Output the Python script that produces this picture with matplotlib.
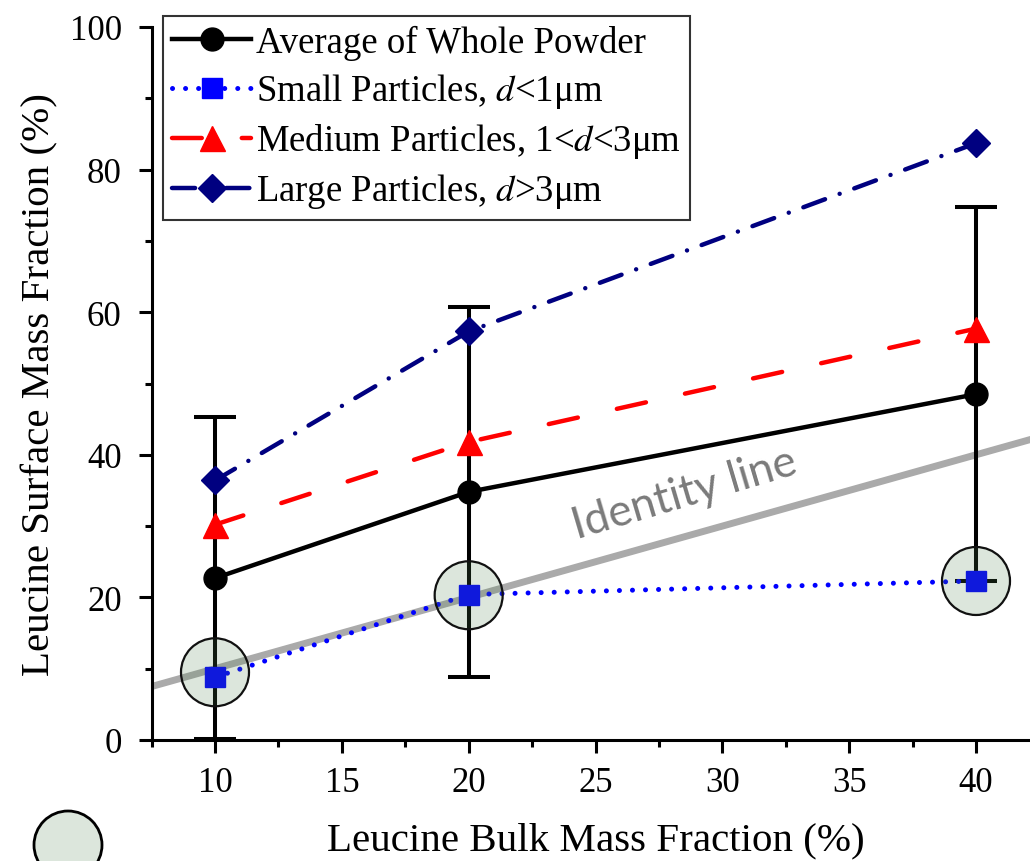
import matplotlib
matplotlib.use("Agg")
import matplotlib.pyplot as plt
from matplotlib.patches import Ellipse
from matplotlib.ticker import MultipleLocator

plt.rcParams['font.family'] = ['Liberation Serif', 'DejaVu Serif']
plt.rcParams['mathtext.fontset'] = 'stix'

bulk = [10, 20, 40]
avg_whole = [22.7, 34.8, 48.5]
avg_err = [22.6, 25.9, 26.2]
small = [8.8, 20.4, 22.3]
medium = [30.2, 41.8, 57.7]
large = [36.4, 57.3, 83.7]
identity_x = [7.5, 42.5]
highlight_x = [10, 20, 40]
highlight_y = [9.5, 20.3, 22.3]

labels = ["Average of Whole Powder",
          "Small Particles, $d$<1μm",
          "Medium Particles, 1<$d$<3μm",
          "Large Particles, $d$>3μm"]

W, H = 1030, 862
fig = plt.figure(figsize=(W/100, H/100), dpi=100)
x0, x1 = 7.5, 42.5
px_per_unit = (976 - 215) / 30.0
left_px = 215 - (10 - x0) * px_per_unit
right_px = 215 + (x1 - 10) * px_per_unit
ax = fig.add_axes([left_px / W, (H - 741) / H, (right_px - left_px) / W, (741 - 28) / H])
ax.set_xlim(x0, x1)
ax.set_ylim(0, 100)

# identity line
ax.plot(identity_x, identity_x, color='#aaaaaa', lw=5, solid_capstyle='butt', zorder=1)

# error bars of average
ax.errorbar(bulk, avg_whole, yerr=avg_err, fmt='none', ecolor='black',
            elinewidth=2.9, capsize=15, capthick=2.9, zorder=2)

l1, = ax.plot(bulk, avg_whole, color='black', lw=3.2, marker='o', ms=16.5,
              label=labels[0], zorder=3)
l2, = ax.plot(bulk, small, color='#0000ff', lw=3.6, marker='s', ms=14,
              dash_capstyle='round', label=labels[1], zorder=3)
l2.set_dashes([0.01, 2.6])
l3, = ax.plot(bulk, medium, color='#ff0000', lw=3.2, marker='^', ms=18,
              dash_capstyle='round', label=labels[2], zorder=3)
l3.set_dashes([6.7, 9.0])
l4, = ax.plot(bulk, large, color='#000080', lw=3.2, marker='D', ms=14,
              dash_capstyle='round', label=labels[3], zorder=3)
l4.set_dashes([5.2, 3.5, 0.01, 3.5])

# highlight circles (semi-transparent overlay)
r_px = 34
for hx, hy in zip(highlight_x, highlight_y):
    e = Ellipse((hx, hy), width=2 * r_px / px_per_unit, height=2 * r_px / 7.134,
                facecolor=(80/255, 130/255, 80/255, 0.2), edgecolor='#111111',
                lw=1.6, zorder=5)
    ax.add_patch(e)

# standalone circle in lower-left corner
fig.patches.append(Ellipse((68 / W, (H - 846) / H), width=68 / W, height=68 / H,
                           transform=fig.transFigure, facecolor='#dce6dc',
                           edgecolor='black', lw=2, zorder=5))

ax.text(28.5, 34.6, "Identity line", family=['Lato', 'DejaVu Sans'], fontsize=32,
        color='#7a7a7a', rotation=16.5, ha='center', va='center', zorder=4)

for s in ['top', 'right']:
    ax.spines[s].set_visible(False)
for s in ['left', 'bottom']:
    ax.spines[s].set_linewidth(2.2)

ax.xaxis.set_minor_locator(MultipleLocator(2.5))
ax.yaxis.set_major_locator(MultipleLocator(20))
ax.yaxis.set_minor_locator(MultipleLocator(10))
ax.set_xticks([10, 15, 20, 25, 30, 35, 40])
ax.tick_params(which='major', direction='out', length=9.5, width=2.2, labelsize=25)
ax.tick_params(which='minor', direction='out', length=5, width=2.2)
ax.tick_params(axis='x', which='major', pad=9)
ax.tick_params(axis='y', which='major', pad=12)

ax.set_xlabel("Leucine Bulk Mass Fraction (%)", fontsize=29.5, labelpad=16)
ax.set_ylabel("Leucine Surface Mass Fraction (%)", fontsize=29.5, labelpad=8)

leg = fig.legend(handles=[l1, l2, l3, l4], loc='upper left',
                 bbox_to_anchor=(163 / W, 1 - 17 / H), bbox_transform=fig.transFigure,
                 fontsize=26.5, frameon=True, fancybox=False, edgecolor='black',
                 borderpad=0.25, borderaxespad=0, handlelength=2.15, handletextpad=0.12,
                 labelspacing=0.3)
leg.get_frame().set_linewidth(1.5)

fig.savefig("out.png", dpi=100)
